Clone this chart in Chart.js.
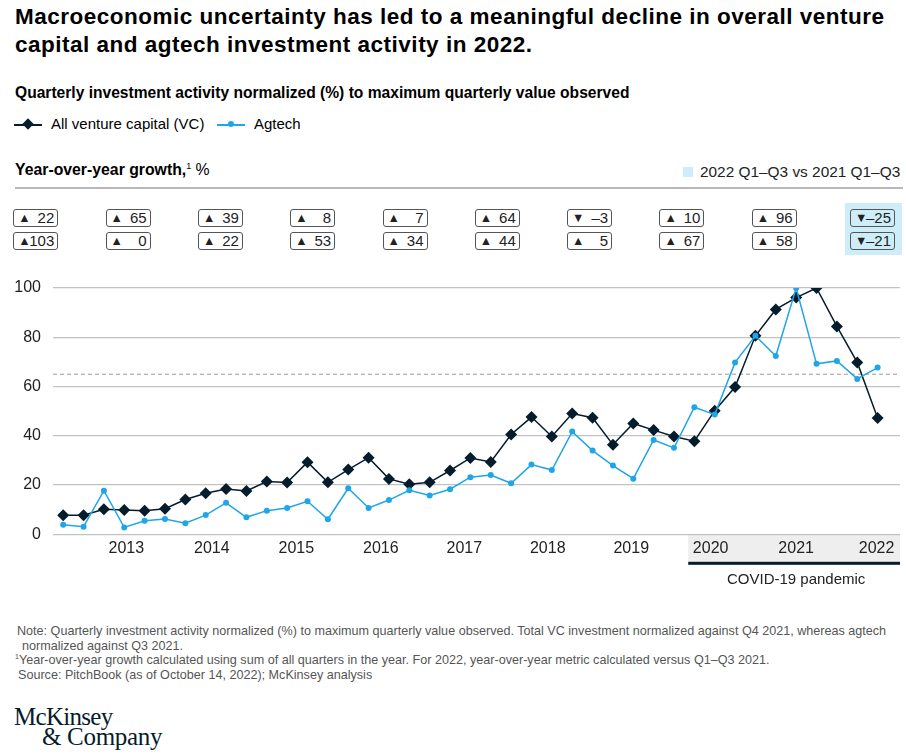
<!DOCTYPE html>
<html>
<head>
<meta charset="utf-8">
<script src="https://cdn.jsdelivr.net/npm/chart.js@4.4.1/dist/chart.umd.min.js"></script>
<style>
  body { margin: 0; width: 906px; height: 756px; background: #fff; position: relative; overflow: hidden;
         font-family: "Liberation Sans", Arial, sans-serif; color: #000; }
  .abs { position: absolute; white-space: nowrap; }
  #title { left: 15px; top: 3px; font-size: 22.5px; font-weight: bold; line-height: 27.5px; letter-spacing: 0.5px; color: #000; }
  #subtitle { left: 15px; top: 84px; font-size: 15.6px; font-weight: bold; }
  .leg { top: 115px; font-size: 15px; }
  .legline { position: absolute; top: 124px; height: 1.5px; width: 28px; }
  .legmark { position: absolute; }
  #yoy { left: 15px; top: 161px; font-size: 15.8px; }
  #sep { left: 15px; top: 187px; width: 888px; height: 2px; background: #b8b8b8; }
  #hlkey { left: 683px; top: 167px; width: 10px; height: 10px; background: #cdeef8; }
  #hltext { left: 700px; top: 163px; font-size: 15.4px; color: #222; }
  #panel { left: 845px; top: 203px; width: 57px; height: 52px; background: #cdeef8; }
  .box { position: absolute; width: 43px; height: 16px; border: 1px solid #555; border-radius: 3px;
         font-size: 15px; line-height: 16px; color: #222; background: transparent; }
  .box .tri { position: absolute; left: 4px; top: 0; font-size: 12.5px; }
  .box .num { position: absolute; right: 3px; top: 0; }
  #chartwrap { position: absolute; left: 0; top: 270px; width: 906px; height: 340px; }
  .note { left: 17px; font-size: 12.6px; color: #555; }
  .logo { font-family: "Liberation Serif", "DejaVu Serif", serif; font-size: 25px; color: #051c2c; letter-spacing: -0.7px; }
</style>
</head>
<body>
<div id="title" class="abs">Macroeconomic uncertainty has led to a meaningful decline in overall venture<br>capital and agtech investment activity in 2022.</div>
<div id="subtitle" class="abs">Quarterly investment activity normalized (%) to maximum quarterly value observed</div>

<div class="legline" style="left:14px;background:#051c2c"></div>
<div class="legmark" style="left:23.5px;top:119.5px;width:8px;height:8px;background:#051c2c;transform:rotate(45deg)"></div>
<div class="abs leg" style="left:51px">All venture capital (VC)</div>
<div class="legline" style="left:217px;background:#1fa6e8"></div>
<div class="legmark" style="left:228px;top:121px;width:6px;height:6px;border-radius:50%;background:#1fa6e8"></div>
<div class="abs leg" style="left:254px">Agtech</div>

<div id="yoy" class="abs"><b>Year-over-year growth,</b><sup style="font-size:9px">1</sup> %</div>
<div id="hlkey" class="abs"></div>
<div id="hltext" class="abs">2022 Q1–Q3 vs 2021 Q1–Q3</div>
<div id="sep" class="abs"></div>
<div id="panel" class="abs"></div>
<div id="boxes"></div>

<div id="chartwrap"><canvas id="chart"></canvas></div>

<div class="abs note" style="top:624px">Note: Quarterly investment activity normalized (%) to maximum quarterly value observed. Total VC investment normalized against Q4 2021, whereas agtech</div>
<div class="abs note" style="top:639px;left:22px">normalized against Q3 2021.</div>
<div class="abs note" style="top:653px;left:15px"><sup style="font-size:7px">1</sup>Year-over-year growth calculated using sum of all quarters in the year. For 2022, year-over-year metric calculated versus Q1–Q3 2021.</div>
<div class="abs note" style="top:668px;left:18px">Source: PitchBook (as of October 14, 2022); McKinsey analysis</div>

<div class="abs logo" style="left:14px;top:703px">McKinsey</div>
<div class="abs logo" style="left:42px;top:723px;letter-spacing:-0.3px">&amp; Company</div>

<script>
// quarterly values, 2012 Q3 .. 2022 Q3, normalized to max (%)
const vcValues = [7.7, 7.7, 10.2, 9.9, 9.6, 10.4, 14.1, 16.7, 18.4, 17.6, 21.4, 21.0, 29.3,
  21.1, 26.3, 31.1, 22.5, 20.3, 21.1, 25.9, 31.0, 29.4, 40.5, 47.6, 39.7, 49.0, 47.3, 36.4,
  45.0, 42.3, 39.7, 37.8, 50.2, 59.8, 80.6, 91.3, 96.1, 100, 84.4, 69.8, 47.2];
const agValues = [3.9, 3.1, 17.7, 2.8, 5.5, 6.2, 4.5, 7.8, 12.8, 6.9, 9.6, 10.7, 13.4,
  6.1, 18.7, 10.7, 13.9, 17.9, 15.8, 18.3, 23.2, 24.1, 20.7, 28.3, 26.1, 41.7, 34.0, 27.9,
  22.6, 38.3, 35.1, 51.6, 48.6, 69.8, 80.6, 72.4, 100, 69.2, 70.4, 63.1, 67.7];

const yearLabels = ["2013", "2014", "2015", "2016", "2017", "2018", "2019", "2020", "2021", "2022"];
const yearTickPos = [3.1, 7.3, 11.45, 15.6, 19.7, 23.8, 27.9, 31.8, 36, 39.95];
const yTicks = [0, 20, 40, 60, 80, 100];

// year-over-year growth, %
const vcGrowth = [22, 65, 39, 8, 7, 64, -3, 10, 96, -25];
const agGrowth = [103, 0, 22, 53, 34, 44, 5, 67, 58, -21];

const refLine = 65;      // dashed reference
const covidStart = 30.7; // x position where the pandemic band begins

// growth boxes
const boxesEl = document.getElementById('boxes');
const makeBox = (val, left, top) => {
  const b = document.createElement('div');
  b.className = 'box';
  b.style.left = left + 'px';
  b.style.top = top + 'px';
  const tri = val < 0 ? '▼' : '▲';
  const num = val < 0 ? '–' + Math.abs(val) : String(val);
  b.innerHTML = `<span class="tri">${tri}</span><span class="num">${num}</span>`;
  boxesEl.appendChild(b);
};
vcGrowth.forEach((v, i) => {
  const left = i < 9 ? 13.3 + i * 92.3 : 850;
  makeBox(v, left, 209);
  makeBox(agGrowth[i], left, 232);
});

const bandPlugin = {
  id: 'band',
  beforeDraw(chart) {
    const { ctx, chartArea, scales } = chart;
    const x0 = scales.x.getPixelForValue(covidStart);
    ctx.save();
    ctx.fillStyle = '#eeeeee';
    ctx.fillRect(x0, chartArea.bottom, chartArea.right - x0, 27.5);
    ctx.fillStyle = '#051c2c';
    ctx.fillRect(x0, chartArea.bottom + 27.5, chartArea.right - x0, 3);
    ctx.font = '15px "Liberation Sans", Arial, sans-serif';
    ctx.fillStyle = '#222';
    ctx.textAlign = 'center';
    ctx.textBaseline = 'middle';
    ctx.fillText('COVID-19 pandemic', scales.x.getPixelForValue(36), chartArea.bottom + 46);
    ctx.restore();
  },
  beforeDatasetsDraw(chart) {
    const { ctx, chartArea, scales } = chart;
    const y = scales.y.getPixelForValue(refLine);
    ctx.save();
    ctx.strokeStyle = '#9a9a9a';
    ctx.lineWidth = 1;
    ctx.setLineDash([4, 3]);
    ctx.beginPath();
    ctx.moveTo(chartArea.left, y);
    ctx.lineTo(chartArea.right, y);
    ctx.stroke();
    ctx.restore();
  }
};

const ctx = document.getElementById('chart');
new Chart(ctx, {
  type: 'line',
  data: {
    datasets: [{
      label: 'Agtech',
      data: agValues.map((v, i) => ({ x: i, y: v })),
      borderColor: '#1fa6e8',
      backgroundColor: '#1fa6e8',
      borderWidth: 1.5,
      pointRadius: 3,
      pointStyle: 'circle',
      pointBorderWidth: 0,
      tension: 0
    }, {
      label: 'All venture capital (VC)',
      data: vcValues.map((v, i) => ({ x: i, y: v })),
      borderColor: '#051c2c',
      backgroundColor: '#051c2c',
      borderWidth: 1.5,
      pointRadius: 6,
      pointStyle: 'rectRot',
      pointBorderWidth: 0,
      tension: 0
    }]
  },
  options: {
    responsive: true,
    maintainAspectRatio: false,
    animation: false,
    layout: { padding: { top: 18, right: 3, left: 0, bottom: 0 } },
    plugins: { legend: { display: false }, tooltip: { enabled: false } },
    scales: {
      x: {
        type: 'linear',
        min: -0.5,
        max: 41.1,
        afterFit: (scale) => { scale.height = 75.7; scale.paddingLeft = 0; scale.paddingRight = 0; },
        afterBuildTicks: (scale) => { scale.ticks = yearTickPos.map(v => ({ value: v })); },
        grid: { display: false, drawTicks: false },
        border: { display: false },
        ticks: {
          autoSkip: false,
          maxRotation: 0,
          padding: 5,
          color: '#222',
          font: { family: '"Liberation Sans", Arial, sans-serif', size: 16 },
          callback: (value, index) => yearLabels[index]
        }
      },
      y: {
        min: 0,
        max: 100,
        afterFit: (scale) => { scale.width = 53; scale.paddingTop = 0; scale.paddingBottom = 0; },
        afterBuildTicks: (scale) => { scale.ticks = yTicks.map(v => ({ value: v })); },
        grid: { color: '#c2c2c2', lineWidth: 1.3, drawTicks: false },
        border: { display: false },
        ticks: {
          padding: 12,
          color: '#222',
          font: { family: '"Liberation Sans", Arial, sans-serif', size: 16 }
        }
      }
    }
  },
  plugins: [bandPlugin]
});
</script>
</body>
</html>
